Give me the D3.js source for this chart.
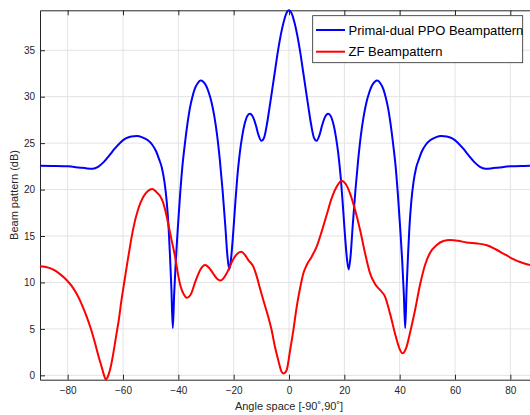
<!DOCTYPE html>
<html>
<head>
<meta charset="utf-8">
<script src="https://cdn.jsdelivr.net/npm/d3@7"></script>
<style>
body { margin: 0; background: #fff; }
svg { display: block; font-family: "Liberation Sans", Arial, Helvetica, sans-serif; }
.axis text { fill: #262626; font-size: 10px; }
.axis line, .axis path { stroke: #262626; }
</style>
</head>
<body>
<div id="chart"></div>
<script>

// Primal-dual PPO beampattern (deg, dB)
var ppoAngle = [-90, -85, -80, -76, -73, -71, -69, -67, -65, -63, -61, -59, -57, -55, -53, -51, -49.5, -48, -47, -46, -45, -44.2, -43.5, -43, -42.5, -42, -41.5, -40.9, -40.2, -39.4, -38.5, -37.6, -36.7, -35.8, -34.9, -34, -33, -32, -31, -30, -29, -28, -27, -26, -25, -24, -23, -22.3, -21.6, -21, -20.2, -19.4, -18.7, -17.8, -17, -16, -15, -14.1, -13, -12, -11, -10, -9, -8, -7, -6, -5, -4, -3, -2, -1,
  0, 1, 2, 3, 4, 5, 6, 7, 8, 9, 10, 11, 12, 13, 14.1, 15, 16, 17, 17.8, 18.7, 19.4, 20.2, 21, 21.6, 22.3, 23, 24, 25, 26, 27, 28, 29, 30, 31, 32, 33, 34, 34.9, 35.8, 36.7, 37.6, 38.5, 39.4, 40.2, 40.9, 41.5, 42, 42.5, 43, 43.5, 44.2, 45, 46, 47, 48, 49.5, 51, 53, 55, 57, 59, 61, 63, 65, 67, 69, 71, 73, 76, 80, 85, 90];
var ppoDb = [22.57, 22.55, 22.5, 22.38, 22.28, 22.25, 22.45, 22.95, 23.65, 24.4, 25.05, 25.5, 25.72, 25.77, 25.62, 25.3, 24.85, 24.1, 23.3, 22.4, 20.8, 18.7, 15.8, 12.8, 9.3, 5.1, 8.8, 12.4, 15.8, 19.3, 22.6, 25.0, 27.1, 28.8, 30.0, 30.9, 31.45, 31.73, 31.6, 31.2, 30.45, 29.4, 27.9, 25.9, 23.2, 19.9, 16.0, 13.0, 11.4, 12.4, 15.2, 18.6, 21.3, 23.9, 25.6, 27.1, 27.95, 28.15, 27.8, 26.95, 25.85, 25.25, 25.6, 27.0, 28.9, 30.9, 32.9, 34.9, 36.6, 37.95, 38.95,
  39.3, 38.95, 37.95, 36.6, 34.9, 32.9, 30.9, 28.9, 27.0, 25.6, 25.25, 25.85, 26.95, 27.8, 28.15, 27.95, 27.1, 25.6, 23.9, 21.3, 18.6, 15.2, 12.4, 11.4, 13.0, 16.0, 19.9, 23.2, 25.9, 27.9, 29.4, 30.45, 31.2, 31.6, 31.73, 31.45, 30.9, 30.0, 28.8, 27.1, 25.0, 22.6, 19.3, 15.8, 12.4, 8.8, 5.1, 9.3, 12.8, 15.8, 18.7, 20.8, 22.4, 23.3, 24.1, 24.85, 25.3, 25.62, 25.77, 25.72, 25.5, 25.05, 24.4, 23.65, 22.95, 22.45, 22.25, 22.28, 22.38, 22.5, 22.55, 22.57];

// ZF beampattern
var zfAngle = [-90, -87, -85, -83, -80.4, -78.5, -76.8, -75, -73.1, -71.5, -70.1, -68.8, -67.7, -66.9, -66.2, -65.5, -64.6, -63.6, -62.5, -61.5, -60.5, -59.5, -58.5, -57.4, -56.3, -54.5, -52.7, -51, -49.4, -47.8, -46.6, -45.5, -44.5, -43.5, -42.4, -41.2, -40.2, -39.2, -38, -37, -36, -35.2, -34.2, -33.2, -32, -30.3, -28.8, -27.4, -26, -24.7, -23.3, -21.9, -20.5, -19, -17.3, -16, -14.7, -12.9, -11.6, -10.5, -9.3, -7.5, -6.3, -5.1, -3.9, -2.7, -2.05, -1.4, -0.8,
  0.4, 1.6, 2.8, 4.0, 5.2, 6.4, 8.2, 10.0, 11.8, 13.6, 15.4, 17.2, 19.0, 20.5, 22.05, 23.9, 25.7, 27.5, 29.3, 31.1, 32.9, 34.7, 36.5, 38.3, 39.9, 41.0, 42.3, 43.7, 45.55, 47.4, 49.2, 51.0, 53.4, 55.8, 58.2, 61, 64.2, 68, 71.5, 74.5, 77.5, 80.5, 83.5, 87.1, 90];
var zfDb = [11.75, 11.6, 11.35, 10.95, 10.26, 9.6, 8.8, 7.7, 6.3, 4.9, 3.45, 2.0, 0.9, 0.05, -0.45, -0.15, 0.7, 2.2, 4.2, 6.0, 8.2, 10.1, 12.0, 14.0, 15.8, 17.9, 19.2, 19.85, 20.05, 19.7, 19.3, 18.6, 17.5, 16.1, 14.5, 12.8, 11.0, 9.6, 8.7, 8.36, 8.5, 8.9, 9.8, 10.6, 11.4, 11.88, 11.55, 10.95, 10.4, 10.2, 10.6, 11.35, 12.3, 13.0, 13.3, 13.0, 12.4, 11.7, 10.6, 9.37, 8.1, 6.3, 4.9, 3.1, 1.65, 0.4, 0.2, 0.3, 0.6,
  2.7, 4.9, 7.4, 9.37, 10.98, 11.88, 12.77, 13.85, 15.47, 17.26, 19.06, 20.3, 20.96, 20.6, 19.6, 17.8, 15.65, 13.14, 10.98, 9.83, 9.19, 8.47, 6.67, 4.52, 2.9, 2.37, 2.9, 4.52, 7.0, 9.8, 11.9, 13.2, 14.03, 14.46, 14.57, 14.5, 14.3, 14.2, 14.0, 13.6, 13.1, 12.6, 12.2, 11.88, 11.7];

var xTicks = [-80, -60, -40, -20, 0, 20, 40, 60, 80];
var yTicks = [0, 5, 10, 15, 20, 25, 30, 35];
var seriesNames = ["Primal-dual PPO Beampattern", "ZF Beampattern"];
var seriesColors = ["#0000ff", "#ff0000"];

var width = 530, height = 415;
var plot = {left: 40, right: 538, top: 10.3, bottom: 379.7};

var x = d3.scaleLinear().domain([-90, 90]).range([plot.left, plot.right]),
    y = d3.scaleLinear().domain([-0.47, 39.3]).range([plot.bottom, plot.top]);

var svg = d3.select("#chart").append("svg")
    .attr("width", width)
    .attr("height", height);

// grid
var grid = svg.append("g").attr("stroke", "#e3e3e3").attr("stroke-width", 1);
grid.selectAll(".gx")
    .data(xTicks)
  .enter().append("line")
    .attr("x1", function(d) { return x(d); })
    .attr("x2", function(d) { return x(d); })
    .attr("y1", plot.top)
    .attr("y2", plot.bottom);
grid.selectAll(".gy")
    .data(yTicks)
  .enter().append("line")
    .attr("x1", plot.left)
    .attr("x2", plot.right)
    .attr("y1", function(d) { return y(d); })
    .attr("y2", function(d) { return y(d); });

// series
var line = d3.line()
    .curve(d3.curveMonotoneX)
    .x(function(d) { return x(d[0]); })
    .y(function(d) { return y(d[1]); });

var series = [
  ppoAngle.map(function(a, i) { return [a, ppoDb[i]]; }),
  zfAngle.map(function(a, i) { return [a, zfDb[i]]; })
];

// axes (ticks point inward like matlab)
svg.append("g")
    .attr("class", "axis")
    .attr("transform", "translate(0," + plot.bottom + ")")
    .call(d3.axisBottom(x).tickValues(xTicks).tickSizeInner(-5).tickSizeOuter(0).tickPadding(7.5));

svg.append("g")
    .attr("class", "axis")
    .attr("transform", "translate(0," + plot.top + ")")
    .call(d3.axisTop(x).tickValues(xTicks).tickSizeInner(-5).tickSizeOuter(0).tickFormat(""));

svg.append("g")
    .attr("class", "axis")
    .attr("transform", "translate(" + plot.left + ",0)")
    .call(d3.axisLeft(y).tickValues(yTicks).tickSizeInner(-5).tickSizeOuter(0).tickPadding(5));

svg.selectAll(".axis .domain").attr("stroke-width", 1);

svg.selectAll(".series")
    .data(series)
  .enter().append("path")
    .attr("class", "series")
    .attr("fill", "none")
    .attr("stroke", function(d, i) { return seriesColors[i]; })
    .attr("stroke-width", 2)
    .attr("stroke-linejoin", "round")
    .attr("d", line);

// labels
svg.append("text")
    .attr("x", (plot.left + plot.right) / 2)
    .attr("y", 410)
    .attr("text-anchor", "middle")
    .attr("font-size", "11px")
    .attr("fill", "#262626")
    .text("Angle space [-90\u02DA,90\u02DA]");

svg.append("text")
    .attr("transform", "translate(18," + (plot.top + plot.bottom) / 2 + ") rotate(-90)")
    .attr("text-anchor", "middle")
    .attr("font-size", "11px")
    .attr("fill", "#262626")
    .text("Beam pattern (dB)");

// legend
var legend = svg.append("g");
legend.append("rect")
    .attr("x", 312.7)
    .attr("y", 15.7)
    .attr("width", 210)
    .attr("height", 47)
    .attr("fill", "#fff")
    .attr("stroke", "#262626")
    .attr("stroke-width", 0.8);

var items = legend.selectAll(".item")
    .data(seriesNames)
  .enter().append("g")
    .attr("transform", function(d, i) { return "translate(0," + (30 + i * 21.7) + ")"; });
items.append("line")
    .attr("x1", 316)
    .attr("x2", 345)
    .attr("stroke", function(d, i) { return seriesColors[i]; })
    .attr("stroke-width", 2);
items.append("text")
    .attr("x", 348.5)
    .attr("dy", "0.35em")
    .attr("font-size", "13px")
    .attr("fill", "#000")
    .text(function(d) { return d; });

</script>
</body>
</html>
